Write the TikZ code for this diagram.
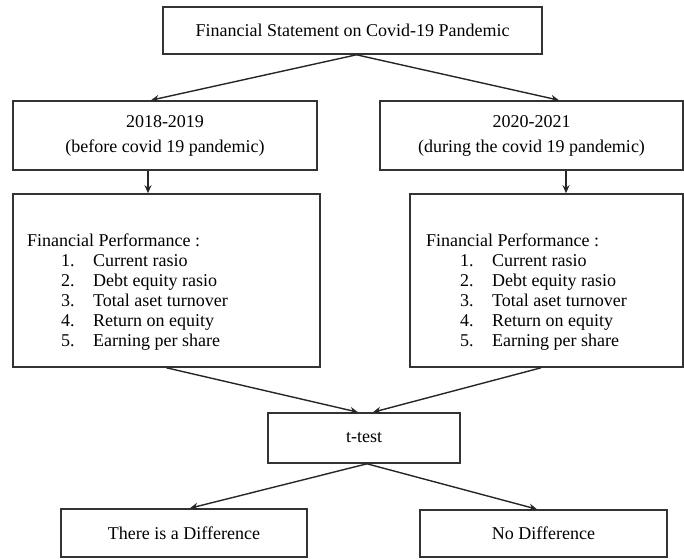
\documentclass[tikz,border=0pt]{standalone}
\usepackage{fontspec}
\setmainfont{Liberation Serif}
\usepackage{tikz}
\usetikzlibrary{arrows.meta,calc,positioning}

\newcommand{\perflist}{%
\begin{tabular}{@{\hspace{34pt}}p{32pt}@{}l}
\multicolumn{2}{@{}l}{Financial Performance :}\\
1. & Current rasio\\
2. & Debt equity rasio\\
3. & Total aset turnover\\
4. & Return on equity\\
5. & Earning per share
\end{tabular}}

\begin{document}
\begin{tikzpicture}[x=1pt,y=-1pt,>=Stealth,
  box/.style={draw=black!80,line width=1.6pt,inner sep=0pt,align=center,text=black,
    font=\fontsize{18}{25}\selectfont},
  flow/.style={-{Stealth[length=8pt,width=7pt]},line width=1.4pt,black!85},
  listtxt/.style={inner sep=0pt,anchor=north west,text=black,font=\fontsize{18}{20}\selectfont}]
\useasboundingbox (0,0) rectangle (684,559);
% boxes
\node[box,minimum width=379pt,minimum height=47pt] (fs) at (352.5,30.5) {Financial Statement on Covid-19 Pandemic};
\node[box,minimum width=304pt,minimum height=69pt] (yrA) at (165,135.5) {2018-2019\\(before covid 19 pandemic)};
\node[box,minimum width=303pt,minimum height=69pt] (yrB) at (531.5,135.5) {2020-2021\\(during the covid 19 pandemic)};
\node[box,minimum width=307pt,minimum height=173pt] (perfA) at (166.5,280.5) {};
\node[box,minimum width=273pt,minimum height=173pt] (perfB) at (546.5,280.5) {};
\node[listtxt] (listA) at (27,232) {\perflist};
\node[listtxt] (listB) at (426,232) {\perflist};
\node[box,minimum width=192pt,minimum height=50pt] (tt) at (364,438) {t-test};
\node[box,minimum width=246pt,minimum height=48pt] (resA) at (184,533) {There is a Difference};
\node[box,minimum width=247pt,minimum height=47pt] (resB) at (543.5,533.5) {No Difference};
% arrows
\draw[flow] ([xshift=4pt]fs.south) -- ([xshift=-14pt]yrA.north);
\draw[flow] ([xshift=4pt]fs.south) -- ([xshift=27.5pt]yrB.north);
\draw[flow] ([xshift=-17pt]yrA.south) -- ([xshift=-17pt]yrA.south |- perfA.north);
\draw[flow] ([xshift=34.5pt]yrB.south) -- ([xshift=34.5pt]yrB.south |- perfB.north);
\draw[flow] (perfA.south) -- ([xshift=-6pt]tt.north);
\draw[flow] ([xshift=-5.5pt]perfB.south) -- ([xshift=9pt]tt.north);
\draw[flow] ([xshift=3pt]tt.south) -- ([xshift=6pt]resA.north);
\draw[flow] ([xshift=3pt]tt.south) -- ([xshift=-6.5pt]resB.north);
\end{tikzpicture}
\end{document}
